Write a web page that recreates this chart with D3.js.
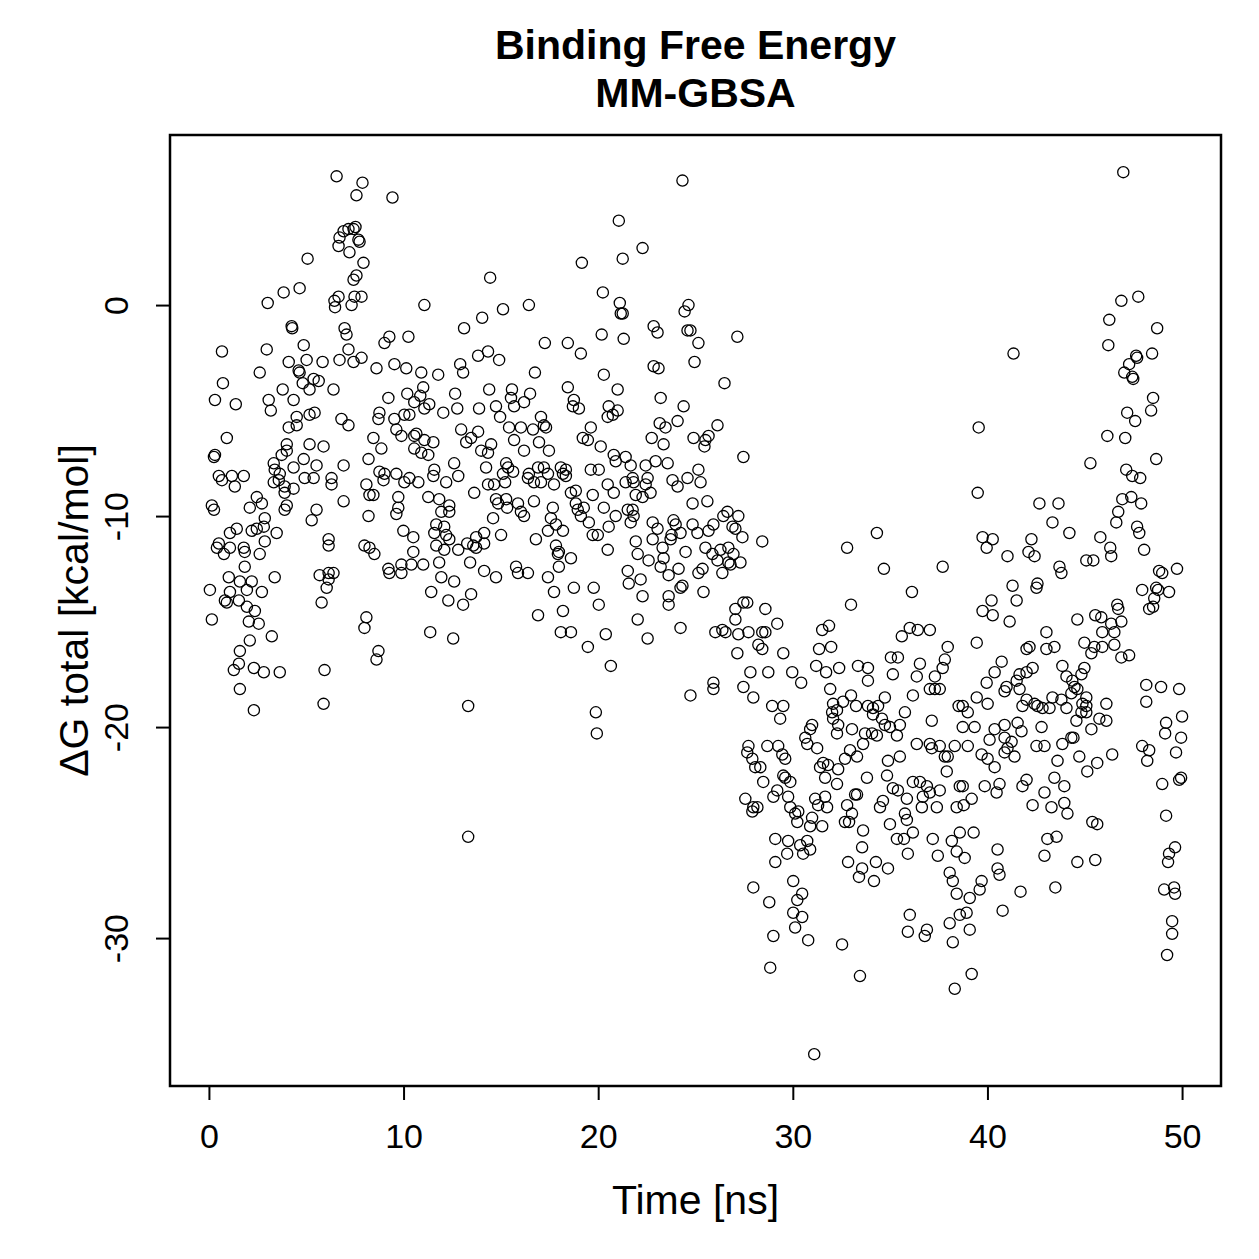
<!DOCTYPE html>
<html>
<head>
<meta charset="utf-8">
<script src="https://cdn.jsdelivr.net/npm/d3@7"></script>
<style>
  body { margin: 0; background: #fff; }
  text { font-family: "Liberation Sans", Arial, sans-serif; fill: #000; }
</style>
</head>
<body>
<div id="container"></div>
<script>
/* DATA */
const titleLines = ["Binding Free Energy", "MM-GBSA"];
const xLabel = "Time [ns]";
const yLabel = "ΔG total [kcal/mol]";
const xTicks = [0, 10, 20, 30, 40, 50];
const yTicks = [-30, -20, -10, 0];
const xLimits = [-2, 52];
const yLimits = [-37.01, 8.06];

// [time (ns), dG total (kcal/mol)]
const frames = [
  [6.56,6.1],[7.89,5.8],[7.58,5.2],[9.43,5.1],[7.43,3.6],[7.17,3.6],[6.92,3.5],[6.71,3.2],[6.66,2.8],[7.22,2.5],
  [7.68,3.1],[7.74,3.0],[7.53,3.7],[7.94,2.0],[7.58,1.4],[7.43,1.2],[5.07,2.2],[4.66,0.8],[3.84,0.6],[3.02,0.1],
  [6.66,0.4],[6.45,0.2],[6.48,-0.1],[7.33,0.0],[7.48,0.4],[7.84,0.4],[4.25,-1.0],[4.28,-1.1],[6.97,-1.1],[7.07,-1.4],
  [0.67,-2.2],[2.97,-2.1],[4.87,-1.9],[7.17,-2.1],[9.02,-1.8],[9.27,-1.5],[4.10,-2.7],[5.02,-2.6],[5.84,-2.7],[6.71,-2.6],
  [7.43,-2.7],[7.84,-2.5],[4.61,-3.1],[4.66,-3.2],[8.61,-3.0],[2.61,-3.2],[5.38,-3.5],[5.64,-3.6],[4.82,-3.7],[5.17,-4.0],
  [0.72,-3.7],[3.79,-4.0],[6.40,-4.0],[0.31,-4.5],[1.38,-4.7],[3.07,-4.5],[3.18,-5.0],[4.35,-4.5],[4.51,-5.3],[4.10,-5.8],
  [4.51,-5.7],[5.17,-5.2],[5.43,-5.1],[6.81,-5.4],[7.17,-5.7],[8.76,-5.1],[8.71,-5.4],[9.53,-5.4],[9.22,-4.4],[0.92,-6.3],
  [8.45,-6.3],[4.00,-6.6],[5.17,-6.6],[5.89,-6.7],
  [0.31,-7.1],[0.26,-7.2],[0.51,-8.1],[0.67,-8.3],[1.18,-8.1],[1.79,-8.1],[1.33,-8.6],[3.33,-7.5],[3.74,-7.1],[4.00,-6.9],
  [3.38,-7.8],[3.64,-8.0],[3.33,-8.4],[3.59,-8.3],[4.35,-7.7],[4.87,-7.3],[5.53,-7.6],[4.92,-8.2],[5.38,-8.2],[6.30,-8.2],
  [6.30,-8.5],[6.92,-7.6],[3.89,-8.6],[4.35,-8.7],[3.89,-8.9],[4.00,-9.5],[3.89,-9.7],[2.46,-9.1],[2.72,-9.4],[2.10,-9.6],
  [0.15,-9.5],[0.26,-9.7],[5.53,-9.7],[5.28,-10.2],[6.92,-9.3],[8.20,-7.3],[8.86,-6.8],[8.09,-8.5],[8.25,-9.0],[8.45,-9.0],
  [8.76,-7.9],[9.02,-8.0],[8.97,-8.3],[8.20,-10.0],[2.87,-10.1],[2.82,-10.5],[2.46,-10.6],[2.20,-10.7],[1.43,-10.6],[1.08,-10.8],
  [3.48,-10.8],[2.87,-11.2],[0.51,-11.3],[0.41,-11.5],[1.08,-11.5],[0.77,-11.8],[1.79,-11.5],[1.84,-11.7],[2.61,-11.8],[1.84,-12.4],
  [6.15,-11.1],[6.15,-11.4],[7.99,-11.4],[8.25,-11.5],[8.50,-11.8],[9.22,-12.5],[9.27,-12.7],[1.02,-12.9],[1.59,-13.1],[2.20,-13.1],
  [0.05,-13.5],[1.08,-13.6],[0.82,-14.0],[0.92,-14.1],[1.54,-14.0],[1.95,-13.5],[2.72,-13.6],[1.95,-14.3],[2.36,-14.5],[3.38,-12.9],
  [5.69,-12.8],[6.15,-12.7],[6.40,-12.7],[6.05,-13.4],[6.15,-13.0],[5.79,-14.1],[0.15,-14.9],[2.05,-15.0],[2.56,-15.1],[8.09,-14.8],
  [7.99,-15.3],[2.10,-15.9],[3.23,-15.7],[1.59,-16.4],[8.71,-16.4],[8.61,-16.8],[1.54,-17.0],[1.28,-17.3],[2.31,-17.2],[2.82,-17.4],
  [3.64,-17.4],[5.94,-17.3],[1.59,-18.2],[2.31,-19.2],[5.89,-18.9],
  [14.45,1.3],[11.07,0.0],[15.11,-0.2],[16.44,0.0],[14.04,-0.6],[13.11,-1.1],[10.25,-1.5],[17.26,-1.8],[18.44,-1.8],[13.83,-2.4],
  [14.34,-2.2],[14.91,-2.6],[9.53,-2.8],[10.14,-3.0],[12.91,-2.8],[13.06,-3.2],[10.91,-3.2],[11.78,-3.3],[16.75,-3.2],[11.01,-3.9],
  [10.19,-4.2],[10.86,-4.3],[11.32,-4.7],[11.07,-4.9],[10.55,-4.6],[12.65,-4.2],[12.76,-4.9],[12.04,-5.1],[14.40,-4.0],[13.88,-4.9],
  [14.75,-4.8],[14.96,-5.3],[15.57,-4.0],[15.52,-4.4],[15.68,-4.8],[16.19,-4.6],[16.50,-4.2],[18.44,-3.9],[18.75,-4.5],[18.70,-4.8],
  [10.04,-5.2],[10.30,-5.2],[9.63,-5.9],[9.89,-6.2],[10.55,-6.2],[10.66,-6.1],[11.07,-6.4],[11.53,-6.5],[12.96,-5.9],[13.83,-6.0],
  [13.47,-6.3],[15.42,-5.8],[16.03,-5.8],[16.65,-5.9],[17.06,-5.3],[17.21,-5.7],[17.32,-5.8],[16.96,-6.5],[13.22,-6.5],[14.50,-6.6],
  [15.68,-6.4],
  [10.55,-6.8],[10.91,-7.0],[11.27,-7.1],[13.99,-6.9],[14.34,-7.0],[16.19,-6.9],[17.47,-6.9],[9.63,-8.0],[10.30,-8.2],[10.76,-8.4],
  [10.04,-8.4],[11.58,-7.8],[11.53,-8.1],[12.19,-8.4],[12.60,-7.5],[12.81,-8.1],[14.24,-7.7],[13.63,-8.9],[14.34,-8.5],[14.65,-8.5],
  [15.27,-7.5],[15.37,-7.7],[15.63,-7.9],[15.22,-8.4],[15.11,-8.0],[16.44,-8.0],[16.39,-8.2],[16.91,-7.7],[17.21,-7.7],[17.42,-8.0],
  [18.08,-7.7],[18.19,-8.0],[17.73,-8.5],[17.06,-8.4],[16.70,-8.4],[9.73,-9.1],[9.73,-9.6],[9.63,-9.9],[11.27,-9.1],[11.83,-9.2],
  [12.35,-9.5],[11.94,-9.8],[12.35,-9.8],[14.75,-9.2],[15.27,-9.2],[14.86,-9.4],[15.32,-9.6],[15.88,-9.4],[16.03,-9.8],[16.19,-10.0],
  [16.70,-9.3],[14.60,-10.1],[17.67,-9.6],[17.57,-10.1],[17.83,-10.4],[18.19,-10.7],[9.99,-10.7],[10.50,-11.0],[10.50,-11.7],[11.68,-10.4],
  [12.09,-10.5],[11.58,-10.8],[12.19,-10.9],[12.35,-11.1],[11.68,-11.4],[12.09,-11.6],[12.81,-11.6],[13.27,-11.3],[13.73,-11.0],[14.14,-10.8],
  [14.14,-11.3],[13.73,-11.5],[13.58,-11.4],[15.01,-10.9],[16.80,-11.1],[17.42,-10.7],[17.83,-11.4],[17.98,-11.7],[17.93,-11.8],[17.98,-12.4],
  [9.89,-12.3],[9.89,-12.7],[10.40,-12.3],[11.01,-12.3],[11.83,-12.2],[11.94,-12.9],[12.60,-13.1],[11.42,-13.6],[12.30,-14.0],[13.06,-14.2],
  [13.47,-13.7],[13.42,-12.2],[14.14,-12.6],[14.75,-12.9],[15.78,-12.4],[15.88,-12.7],[16.39,-12.7],[17.42,-12.9],[17.73,-13.6],[18.19,-14.5],
  [18.08,-15.5],[16.91,-14.7],[11.37,-15.5],[12.55,-15.8],[13.32,-19.0],[13.32,-25.2],
  [24.33,5.9],[21.06,4.0],[22.28,2.7],[21.26,2.2],[19.16,2.0],[20.24,0.6],[21.11,0.1],[21.16,-0.4],[21.26,-0.4],[20.18,-1.4],
  [21.31,-1.6],[19.11,-2.3],[22.85,-1.0],[23.05,-1.3],[24.64,0.0],[24.44,-0.3],[24.59,-1.2],[24.74,-1.2],[25.15,-1.8],[27.15,-1.5],
  [22.85,-2.9],[23.10,-3.0],[24.95,-2.7],[20.29,-3.3],[26.49,-3.7],[21.00,-4.0],[23.21,-4.4],[24.39,-4.8],[19.01,-4.9],[20.54,-4.8],
  [20.49,-5.3],[21.00,-5.0],[20.75,-5.2],[19.62,-5.8],[19.21,-6.3],[19.47,-6.4],[20.13,-6.7],[23.16,-5.6],[23.46,-5.8],[24.08,-5.5],
  [22.75,-6.3],[23.36,-6.6],[26.13,-5.7],[25.67,-6.2],[25.51,-6.4],[24.90,-6.3],[25.46,-6.7],
  [27.46,-7.2],[20.80,-7.1],[20.90,-7.4],[21.41,-7.2],[21.67,-7.6],[22.44,-7.6],[22.95,-7.4],[23.57,-7.5],[18.34,-7.8],[18.34,-8.1],
  [19.62,-7.8],[20.03,-7.8],[20.49,-8.5],[20.80,-8.9],[21.41,-8.4],[21.77,-8.2],[21.82,-8.4],[22.54,-8.2],[22.44,-8.5],[22.69,-8.9],
  [23.82,-8.3],[24.08,-8.6],[24.59,-8.2],[25.15,-7.8],[25.26,-8.4],[18.85,-8.8],[18.60,-8.9],[19.72,-9.0],[21.93,-9.0],[22.28,-9.1],
  [24.85,-9.4],[25.61,-9.3],[18.85,-9.4],[18.95,-9.7],[19.26,-9.6],[19.11,-10.0],[19.52,-10.3],[20.29,-9.6],[20.90,-10.0],[20.54,-10.5],
  [19.72,-10.9],[19.98,-10.9],[21.52,-9.7],[21.82,-10.0],[21.67,-10.3],[21.77,-9.7],[22.80,-10.3],[23.05,-10.6],[23.87,-10.2],[23.98,-10.4],
  [24.23,-10.8],[24.85,-10.4],[25.10,-10.8],[25.67,-10.7],[25.92,-10.4],[26.43,-10.0],[26.64,-9.8],[27.20,-10.0],[26.90,-10.5],[27.05,-10.6],
  [27.41,-11.0],[21.93,-11.2],[22.80,-11.1],[23.72,-11.1],[23.77,-10.9],[23.31,-11.5],[20.49,-11.6],[22.03,-11.8],[22.59,-12.1],[23.36,-12.0],
  [23.21,-12.4],[23.62,-12.8],[24.13,-12.5],[24.49,-11.7],[25.51,-11.5],[25.87,-11.8],[26.28,-11.6],[26.69,-11.5],[26.95,-11.8],[26.13,-12.1],
  [26.69,-12.2],[25.36,-12.5],[25.15,-12.7],[26.38,-12.7],[28.43,-11.2],[18.60,-12.0],[21.52,-12.6],[21.57,-13.2],[22.18,-13.0],[18.75,-13.4],
  [19.77,-13.4],[22.28,-13.8],[24.23,-13.4],[24.33,-13.3],[23.62,-13.8],[23.62,-14.2],[25.41,-13.6],[20.03,-14.2],[22.03,-14.9],[24.23,-15.3],
  [18.60,-15.5],[20.39,-15.6],[22.54,-15.8],[26.02,-15.5],[26.38,-15.4],[26.54,-15.5],[19.47,-16.2],[20.65,-17.1],[25.92,-17.9],[25.92,-18.2],
  [24.74,-18.5],[19.88,-19.3],[19.93,-20.3],
  [27.31,-12.2],[26.80,-12.3],[34.68,-12.5],[37.70,-12.4],[36.12,-13.6],[32.99,-14.2],[27.46,-14.1],[27.66,-14.1],[27.05,-14.4],[28.59,-14.4],
  [27.05,-14.9],[29.20,-15.1],[27.20,-15.6],[27.72,-15.5],[28.43,-15.5],[28.59,-15.5],[28.23,-16.1],[28.43,-16.3],[27.15,-16.5],[29.51,-16.5],
  [31.51,-15.4],[31.86,-15.2],[31.35,-16.3],[31.97,-16.2],[35.60,-15.7],[36.01,-15.3],[36.42,-15.4],[37.04,-15.4],[37.96,-16.2],[37.81,-16.8],
  [37.70,-17.2],[27.82,-17.4],[28.74,-17.4],[29.97,-17.4],[30.43,-17.9],[27.46,-18.1],[27.97,-18.6],[31.20,-17.1],[31.71,-17.4],[32.38,-17.2],
  [31.92,-18.2],[33.35,-17.1],[33.86,-17.2],[33.86,-17.8],[35.04,-16.7],[35.40,-16.7],[35.14,-17.5],[36.53,-17.0],[36.37,-17.6],[37.30,-17.6],
  [37.04,-18.2],[37.30,-18.2],[37.55,-18.2],[28.94,-19.0],[29.51,-19.0],[29.35,-19.6],[32.07,-18.9],[32.58,-18.8],[32.99,-18.5],[33.25,-19.0],
  [32.02,-19.3],[32.27,-19.2],[32.07,-19.6],[32.33,-19.9],[32.27,-20.3],[33.86,-19.0],[34.12,-19.1],[34.38,-19.0],[34.12,-19.4],[34.73,-18.6],
  [34.58,-19.6],[34.73,-19.9],[34.99,-20.0],[35.35,-20.4],[35.50,-19.9],[35.76,-19.3],[36.17,-18.5],[37.14,-19.7],[38.52,-19.0],[30.99,-19.9],
  [30.89,-20.1],[30.64,-20.5],[30.74,-20.8],[31.25,-21.0],[33.04,-20.1],[33.71,-20.3],[34.07,-20.3],[34.32,-20.4],[33.61,-20.8],[27.72,-20.9],
  [27.66,-21.2],[27.92,-21.5],[28.69,-20.9],[29.25,-20.9],[29.46,-21.3],[29.61,-21.5],[28.07,-21.9],[28.33,-21.9],[31.56,-21.7],[31.81,-21.8],
  [31.40,-21.9],[31.66,-22.4],[32.33,-22.0],[32.68,-21.5],[32.94,-21.1],[33.30,-21.4],[32.27,-22.7],[34.89,-21.6],[35.50,-21.4],[34.84,-22.3],
  [33.81,-22.4],[36.37,-20.8],[37.04,-20.8],[37.14,-21.0],[37.55,-20.9],[37.81,-21.4],[37.96,-21.4],[37.91,-22.1],[38.32,-20.9],[28.48,-22.6],
  [29.51,-22.3],[29.87,-22.6],[29.61,-22.4],[27.56,-23.4],[27.97,-23.8],[28.18,-23.8],[29.20,-23.0],[29.00,-23.3],[29.76,-23.3],[29.87,-23.8],
  [30.28,-24.0],[30.12,-24.1],[31.15,-23.4],[31.30,-23.7],[31.76,-23.8],[31.66,-23.3],[32.79,-23.7],[33.20,-23.2],[33.30,-23.2],[33.04,-24.1],
  [34.48,-23.8],[34.63,-23.5],[35.14,-22.9],[35.40,-23.0],[35.86,-23.4],[36.17,-22.6],[36.53,-22.6],[36.89,-22.8],[36.68,-23.3],[37.04,-23.1],
  [37.55,-23.0],[37.40,-23.8],[36.63,-23.8],[35.76,-24.1],[38.58,-22.8],
  [27.92,-24.0],[30.23,-24.5],[30.99,-24.3],[30.89,-24.7],[31.51,-24.7],[32.68,-24.5],[32.89,-24.5],[35.86,-24.4],[38.42,-23.8],[29.10,-25.3],
  [29.76,-25.4],[30.74,-25.4],[30.38,-25.6],[30.89,-25.8],[30.53,-26.0],[29.71,-26.0],[29.10,-26.4],[33.61,-24.9],[33.56,-25.7],[34.99,-24.6],
  [35.35,-25.3],[35.71,-25.3],[36.17,-25.0],[35.91,-26.0],[37.19,-25.3],[38.17,-25.4],[37.45,-26.1],[38.42,-25.9],[32.84,-26.4],[33.56,-26.7],
  [33.40,-27.1],[34.27,-26.4],[34.89,-26.7],[34.17,-27.3],[38.06,-26.9],[38.22,-27.3],[38.42,-27.9],[27.97,-27.6],[28.79,-28.3],[30.02,-27.3],
  [30.48,-27.9],[30.23,-28.2],[30.02,-28.8],[30.48,-29.0],[30.12,-29.5],[36.01,-28.9],[35.91,-29.7],[36.89,-29.6],[36.78,-29.9],[38.06,-29.3],
  [38.22,-30.2],[38.58,-28.9],[29.00,-29.9],[30.79,-30.1],[32.53,-30.3],[28.84,-31.4],[33.45,-31.8],[38.32,-32.4],[31.10,-35.5],
  [32.79,-11.5],[34.32,-10.8],
  [46.98,6.3],[47.75,0.4],[46.88,0.2],[46.26,-0.7],[48.72,-1.1],[41.34,-2.3],[46.21,-1.9],[47.64,-2.4],[47.69,-2.5],[48.46,-2.3],
  [47.28,-2.8],[47.03,-3.2],[47.44,-3.4],[47.49,-3.5],[48.51,-4.4],[48.41,-5.0],[47.18,-5.1],[47.59,-5.5],[39.55,-5.8],[46.16,-6.2],
  [47.08,-6.3],[48.67,-7.3],[45.29,-7.5],[47.13,-7.8],[47.44,-8.1],[47.85,-8.2],[39.50,-8.9],[46.93,-9.2],[47.39,-9.1],[47.90,-9.4],
  [42.67,-9.4],[43.65,-9.4],[43.34,-10.3],[44.21,-10.8],[46.72,-9.8],[46.62,-10.3],[47.69,-10.5],[47.80,-10.8],[39.75,-11.0],[40.27,-11.1],
  [39.96,-11.5],[42.26,-11.1],[42.11,-11.7],[42.42,-11.9],[41.03,-11.9],[45.80,-11.0],[46.31,-11.5],[46.36,-11.9],[48.05,-11.6],[45.08,-12.1],
  [45.44,-12.1],
  [43.70,-12.4],[43.80,-12.7],[48.82,-12.6],[48.98,-12.7],[49.74,-12.5],[47.95,-13.5],[48.67,-13.4],[48.77,-13.5],[49.33,-13.6],[48.57,-13.9],
  [48.31,-14.4],[48.51,-14.3],[41.29,-13.3],[41.50,-14.0],[40.21,-14.0],[39.75,-14.5],[40.27,-14.7],[41.14,-15.0],[42.57,-13.2],[42.52,-13.4],
  [46.67,-14.2],[46.72,-14.4],[46.88,-15.0],[44.62,-14.9],[45.54,-14.7],[45.85,-14.8],[45.90,-15.5],[46.52,-15.5],[46.36,-15.1],[43.03,-15.5],
  [39.45,-16.0],[42.16,-16.2],[42.01,-16.3],[43.03,-16.3],[43.44,-16.2],[44.98,-16.0],[45.49,-16.2],[45.90,-16.2],[46.52,-16.1],[45.34,-16.5],
  [46.88,-16.7],[47.28,-16.6],[40.73,-16.9],[40.37,-17.4],[39.96,-17.9],[42.32,-17.2],[42.01,-17.4],[41.65,-17.5],[41.50,-17.8],[40.98,-18.1],
  [40.88,-18.3],[41.65,-18.2],[42.01,-18.7],[41.80,-19.0],[42.42,-18.9],[43.85,-17.1],[44.06,-17.6],[44.36,-17.8],[44.98,-17.2],[44.83,-17.5],
  [44.47,-18.1],[44.31,-18.4],[44.62,-18.2],[45.08,-18.6],[44.88,-18.9],[44.83,-19.3],[44.57,-19.7],[45.08,-19.0],[44.06,-19.1],[43.80,-18.7],
  [43.34,-18.6],[43.19,-19.1],[42.83,-19.1],[42.57,-19.0],[42.78,-20.0],[46.11,-18.9],[45.75,-19.6],[46.11,-19.7],[45.34,-20.1],[45.08,-19.3],
  [48.16,-18.0],[48.92,-18.1],[49.85,-18.2],[48.16,-18.8],[38.73,-19.0],[38.99,-19.3],[39.45,-18.6],[40.01,-18.9],[38.73,-20.0],[39.34,-20.0],
  [40.37,-20.1],[40.88,-19.9],[41.55,-19.8],[41.75,-20.2],[40.11,-20.6],[40.88,-20.5],[41.24,-20.7],[41.03,-21.0],[40.88,-21.2],[41.39,-21.4],
  [38.99,-20.9],[39.70,-21.3],[40.01,-21.5],[40.37,-21.9],[42.52,-20.9],[42.93,-20.9],[43.85,-20.8],[44.31,-20.5],[44.42,-20.5],[43.60,-21.6],
  [44.72,-21.4],[45.64,-21.7],[45.13,-22.1],[46.41,-21.3],[47.95,-20.9],[48.31,-21.1],[48.21,-21.6],[49.18,-19.8],[49.13,-20.3],[50.00,-19.5],
  [49.95,-20.5],[49.69,-21.2],[38.73,-22.8],[39.86,-22.8],[40.62,-22.7],[40.47,-23.1],[41.80,-22.8],[42.01,-22.5],[42.93,-23.1],[43.44,-22.4],
  [43.95,-22.8],[48.98,-22.7],[49.85,-22.5],[49.95,-22.4],
  [38.78,-23.7],[39.19,-23.4],[42.32,-23.7],[43.29,-23.8],[43.95,-23.6],[44.11,-24.1],[45.39,-24.5],[45.64,-24.6],[38.58,-25.0],[39.29,-25.0],
  [38.83,-26.2],[40.52,-25.8],[40.52,-26.7],[40.62,-27.0],[43.08,-25.3],[43.55,-25.2],[42.93,-26.1],[44.62,-26.4],[45.54,-26.3],[39.70,-27.3],
  [39.60,-27.7],[39.09,-28.1],[38.93,-28.8],[41.70,-27.8],[43.49,-27.6],[40.78,-28.7],[39.09,-29.6],[39.19,-31.7],[49.18,-24.2],[49.64,-25.7],
  [49.33,-26.0],[49.28,-26.4],[49.08,-27.7],[49.59,-27.6],[49.64,-27.9],[49.49,-29.2],[49.49,-29.8],[49.23,-30.8]
];

/* CONSTANTS */
const width = 1259, height = 1259,
      margin = {top: 135, right: 38, bottom: 173, left: 170},
      innerWidth = width - margin.left - margin.right,
      innerHeight = height - margin.top - margin.bottom;

/* SCALES */
const xScale = d3.scaleLinear().domain(xLimits).range([0, innerWidth]);
const yScale = d3.scaleLinear().domain(yLimits).range([innerHeight, 0]);

/* ELEMENTS */
const svg = d3.select("#container")
  .append("svg")
    .attr("width", width)
    .attr("height", height)
    .style("background", "#fff");

const plot = svg.append("g")
  .attr("transform", `translate(${margin.left},${margin.top})`);

// points
plot.selectAll("circle.pt")
  .data(frames)
  .join("circle")
    .attr("class", "pt")
    .attr("cx", d => xScale(d[0]))
    .attr("cy", d => yScale(d[1]))
    .attr("r", 5.6)
    .attr("fill", "none")
    .attr("stroke", "#000")
    .attr("stroke-width", 1.3);

// axes (R style: line only spans the ticks)
const xAxis = plot.append("g")
  .attr("transform", `translate(0,${innerHeight})`)
  .call(d3.axisBottom(xScale).tickValues(xTicks).tickSize(14).tickPadding(8)
    .tickFormat(d => String(d)).tickSizeOuter(0));
xAxis.select(".domain").attr("d", `M${xScale(xTicks[0])},0H${xScale(xTicks[xTicks.length - 1])}`);

const yAxis = plot.append("g")
  .call(d3.axisLeft(yScale).tickValues(yTicks).tickSize(14).tickPadding(8)
    .tickFormat(d => String(d)).tickSizeOuter(0));
yAxis.select(".domain").attr("d", `M0,${yScale(yTicks[0])}V${yScale(yTicks[yTicks.length - 1])}`);

[xAxis, yAxis].forEach(g => {
  g.selectAll("path, line").attr("stroke", "#000").attr("stroke-width", 2);
  g.selectAll("text")
    .attr("font-family", "Liberation Sans, Arial, sans-serif")
    .attr("font-size", 34)
    .attr("fill", "#000");
});
xAxis.selectAll("text").attr("dy", null).attr("y", 62);
// tick groups are already translated to their value, so only offset and rotate
yAxis.selectAll("text")
  .attr("x", null).attr("dy", null)
  .attr("text-anchor", "middle")
  .attr("transform", "translate(-42,0) rotate(-90)");

// box
plot.append("rect")
  .attr("width", innerWidth)
  .attr("height", innerHeight)
  .attr("fill", "none")
  .attr("stroke", "#000")
  .attr("stroke-width", 2.5);

// labels
svg.append("text")
  .attr("x", margin.left + innerWidth / 2)
  .attr("y", 1214)
  .attr("text-anchor", "middle")
  .attr("font-size", 41)
  .text(xLabel);

svg.append("text")
  .attr("transform", `translate(88,${margin.top + innerHeight / 2}) rotate(-90)`)
  .attr("text-anchor", "middle")
  .attr("font-size", 41)
  .text(yLabel);

svg.selectAll("text.title")
  .data(titleLines)
  .join("text")
    .attr("class", "title")
    .attr("x", margin.left + innerWidth / 2)
    .attr("y", (d, i) => 59 + i * 48)
    .attr("text-anchor", "middle")
    .attr("font-size", 41)
    .attr("font-weight", "bold")
    .text(d => d);
</script>
</body>
</html>
